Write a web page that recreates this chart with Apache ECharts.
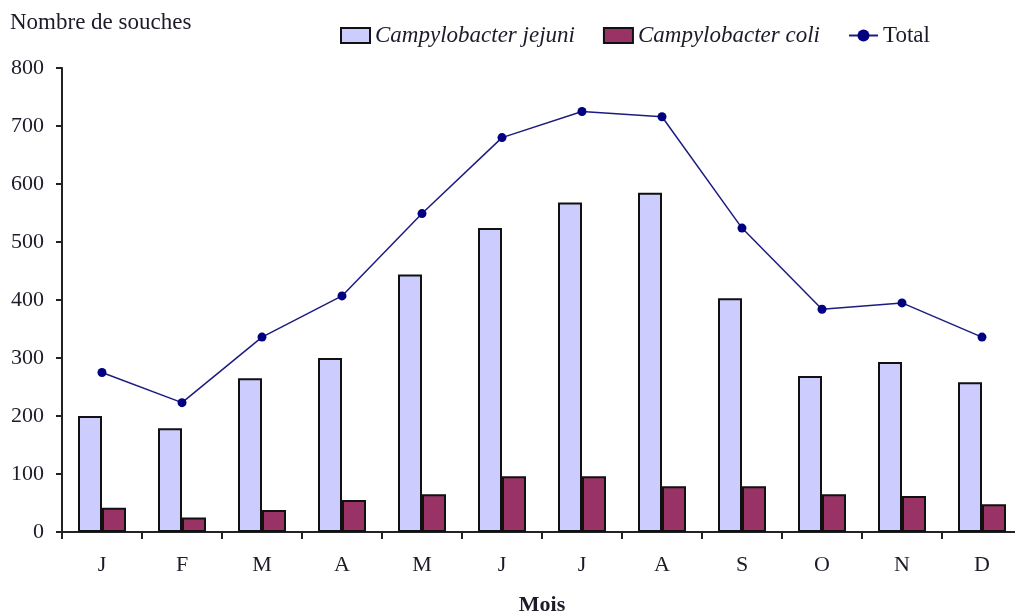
<!DOCTYPE html>
<html style="height: 100%">
<head>
<meta charset="utf-8">
<script src="https://cdn.jsdelivr.net/npm/echarts@6/dist/echarts.min.js"></script>
</head>
<body style="height: 100%; margin: 0; background: #fff">
<div id="main" style="width: 1015px; height: 616px"></div>
<script type="text/javascript">
var months = ['J', 'F', 'M', 'A', 'M', 'J', 'J', 'A', 'S', 'O', 'N', 'D'];
var jejuni = [200, 179, 265, 300, 444, 524, 568, 585, 403, 269, 293, 258];
var coli = [42, 25, 38, 55, 65, 96, 96, 79, 79, 65, 62, 48];
var total = [275, 223, 336, 407, 549, 680, 725, 716, 524, 384, 395, 336];

var serif = 'Liberation Serif';
var ink = '#1b1b2a';

var chart = echarts.init(document.getElementById('main'));
var option = {
    animation: false,
    title: {
        text: 'Nombre de souches',
        left: 5, top: 6,
        textStyle: {fontFamily: serif, fontSize: 23, fontWeight: 'normal', color: ink}
    },
    legend: {
        left: 335, top: 19,
        itemWidth: 29, itemHeight: 15, itemGap: 28,
        data: [
            {name: 'Campylobacter jejuni', icon: 'rect'},
            {name: 'Campylobacter coli', icon: 'rect'},
            {name: 'Total'}
        ],
        textStyle: {fontFamily: serif, fontSize: 23, color: ink,
            rich: {i: {fontFamily: serif, fontSize: 23, fontStyle: 'italic', color: ink}}},
        formatter: function (name) {
            return name === 'Total' ? name : '{i|' + name + '}';
        }
    },
    grid: {left: 62, top: 68, width: 960, height: 464, outerBoundsMode: 'none', containLabel: false},
    xAxis: {
        type: 'category',
        data: months,
        name: 'Mois',
        nameLocation: 'middle',
        nameGap: 62,
        nameTextStyle: {fontFamily: serif, fontSize: 22, fontWeight: 'bold', color: ink},
        axisLine: {lineStyle: {color: '#222', width: 2}},
        axisTick: {show: true, length: 7, lineStyle: {color: '#222', width: 2}},
        axisLabel: {margin: 22, fontFamily: serif, fontSize: 22, color: ink}
    },
    yAxis: {
        type: 'value',
        min: 0, max: 800, interval: 100,
        splitLine: {show: false},
        axisLine: {show: true, lineStyle: {color: '#222', width: 2}},
        axisTick: {show: true, length: 6, lineStyle: {color: '#222', width: 2}},
        axisLabel: {margin: 18, fontFamily: serif, fontSize: 22, color: ink}
    },
    series: [
        {
            name: 'Campylobacter jejuni',
            type: 'bar',
            data: jejuni,
            barGap: '0%',
            barCategoryGap: '40%',
            itemStyle: {color: '#ccccff', borderColor: '#111', borderWidth: 2}
        },
        {
            name: 'Campylobacter coli',
            type: 'bar',
            data: coli,
            itemStyle: {color: '#993366', borderColor: '#111', borderWidth: 2}
        },
        {
            name: 'Total',
            type: 'line',
            data: total,
            symbol: 'circle',
            symbolSize: 9,
            lineStyle: {color: '#1c1c80', width: 1.5},
            itemStyle: {color: '#000080'}
        }
    ]
};
chart.setOption(option);
</script>
</body>
</html>
